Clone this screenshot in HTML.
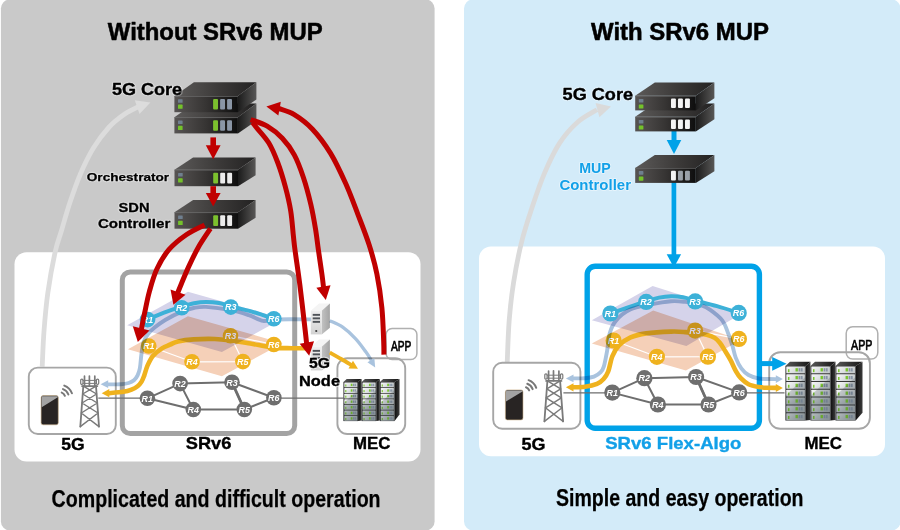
<!DOCTYPE html>
<html><head><meta charset="utf-8"><title>SRv6 MUP</title>
<style>html,body{margin:0;padding:0;background:#fff;}svg{display:block;}text{font-family:"Liberation Sans",sans-serif;}</style>
</head><body>
<svg width="900" height="530" viewBox="0 0 900 530">
<defs>
<linearGradient id="srvTop" x1="0" y1="0" x2="1" y2="0"><stop offset="0" stop-color="#5c5a59"/><stop offset="0.55" stop-color="#3b3938"/><stop offset="1" stop-color="#232222"/></linearGradient>
<linearGradient id="srvSide" x1="0" y1="0" x2="1" y2="0"><stop offset="0" stop-color="#1b1b1b"/><stop offset="1" stop-color="#585756"/></linearGradient>
<linearGradient id="srvFront" x1="0" y1="0" x2="1" y2="0"><stop offset="0" stop-color="#575453"/><stop offset="0.5" stop-color="#363433"/><stop offset="1" stop-color="#0e0e0e"/></linearGradient>
<linearGradient id="rkTop" x1="0" y1="0" x2="1" y2="0"><stop offset="0" stop-color="#5a5a5a"/><stop offset="1" stop-color="#141414"/></linearGradient>
<linearGradient id="rkSide" x1="0" y1="0" x2="1" y2="0"><stop offset="0" stop-color="#0e0e0e"/><stop offset="1" stop-color="#3c3c3c"/></linearGradient>
<linearGradient id="unitA" x1="0" y1="0" x2="1" y2="0.4"><stop offset="0" stop-color="#f7f8f8"/><stop offset="0.5" stop-color="#e0e3e4"/><stop offset="1" stop-color="#c6cbcd"/></linearGradient>
<linearGradient id="unitB" x1="0" y1="0" x2="1" y2="0.4"><stop offset="0" stop-color="#dde1e2"/><stop offset="0.5" stop-color="#bcc3c5"/><stop offset="1" stop-color="#a3abae"/></linearGradient>
<linearGradient id="tsFront" x1="0" y1="0" x2="0" y2="1"><stop offset="0" stop-color="#efefef"/><stop offset="1" stop-color="#d2d2d2"/></linearGradient>
<linearGradient id="tsSide" x1="0" y1="0" x2="1" y2="0"><stop offset="0" stop-color="#c2c2c2"/><stop offset="1" stop-color="#a4a4a4"/></linearGradient>
</defs>
<rect x="0.9" y="-0.5" width="433.7" height="531" rx="9" fill="#c9c9c9"/>
<rect x="464" y="-0.5" width="436.5" height="531" rx="9" fill="#d3ebf9"/>
<rect x="14.5" y="252.2" width="406" height="209.4" rx="12" fill="#fff"/>
<rect x="479" y="246.4" width="406" height="209.9" rx="12" fill="#fff"/>
<text x="107.8" y="39.5" font-size="23" font-weight="bold" fill="#000" text-anchor="start" textLength="214.8" lengthAdjust="spacingAndGlyphs" stroke="#000" stroke-width="0.51" stroke-linejoin="round">Without SRv6 MUP</text>
<text x="591" y="39.5" font-size="23" font-weight="bold" fill="#000" text-anchor="start" textLength="178" lengthAdjust="spacingAndGlyphs" stroke="#000" stroke-width="0.51" stroke-linejoin="round">With SRv6 MUP</text>
<text x="51.6" y="507.2" font-size="23.6" font-weight="bold" fill="#000" text-anchor="start" textLength="329" lengthAdjust="spacingAndGlyphs" stroke="#000" stroke-width="0.25">Complicated and difficult operation</text>
<text x="556" y="506.4" font-size="23.6" font-weight="bold" fill="#000" text-anchor="start" textLength="247.5" lengthAdjust="spacingAndGlyphs" stroke="#000" stroke-width="0.25">Simple and easy operation</text>
<path d="M42.20,366.60 C42.50,360.68 43.07,343.35 44.00,331.10 C44.93,318.85 45.95,306.25 47.80,293.10 C49.65,279.95 52.78,262.72 55.10,252.20 C57.42,241.68 59.28,238.10 61.70,230.00 C64.12,221.90 66.52,212.85 69.60,203.60 C72.68,194.35 76.23,183.75 80.20,174.50 C84.17,165.25 88.57,156.02 93.40,148.10 C98.23,140.18 103.92,132.72 109.20,127.00 C114.48,121.28 120.22,117.20 125.10,113.80 C129.98,110.40 136.27,107.80 138.50,106.60" fill="none" stroke="#dcdcdc" stroke-width="4.8"/>
<polygon points="150.40,102.60 139.52,114.01 134.80,100.30" fill="#dcdcdc"/>
<rect x="28.8" y="367.6" width="87" height="66.4" rx="9" fill="#fff" stroke="#a6a6a6" stroke-width="1.9"/>
<rect x="41.1" y="395.6" width="17.2" height="29.2" rx="2" fill="#282423" stroke="#c9b08a" stroke-width="0.6"/>
<path d="M42.300000000000004,396.20000000000005 L57.099999999999994,396.20000000000005 Q57.9,396.40000000000003 57.8,397.20000000000005 L41.7,407.20000000000005 L41.7,397.20000000000005 Q41.7,396.20000000000005 42.300000000000004,396.20000000000005 Z" fill="#a3a3a3"/>
<g fill="none" stroke="#787878" stroke-width="2.0" stroke-linecap="round">
<path d="M61.71,392.62 A5.3,5.3 0 0 1 64.88,395.79"/>
<path d="M62.98,389.14 A9.0,9.0 0 0 1 68.36,394.52"/>
<path d="M64.28,385.57 A12.8,12.8 0 0 1 71.93,393.22"/>
</g>
<g transform="translate(80.2,375.2) scale(1.0)" fill="none" stroke="#7a7a7a" stroke-width="1.45" stroke-linecap="round" stroke-linejoin="round">
<path d="M3.10,10.9 L0.10,51.4 M15.80,10.9 L18.80,51.4" stroke-width="1.8"/>
<path d="M3.10,10.9 L16.39,18.8 M15.80,10.9 L2.51,18.8 M2.51,18.8 L17.05,27.8 M16.39,18.8 L1.85,27.8 M1.85,27.8 L17.79,37.8 M17.05,27.8 L1.11,37.8 M1.11,37.8 L18.80,51.4 M17.79,37.8 L0.10,51.4 " stroke-width="1.45"/>
<path d="M1.8,10.9 L17.2,10.9" stroke-width="1.7"/>
<path d="M4.3,1 L4.3,10.6 M9.2,0.8 L9.2,10.6 M14.6,1 L14.6,10.6" stroke-width="1.7"/>
<rect x="0.5" y="3.9" width="2.3" height="5.2" rx="1.1" stroke-width="1.2"/>
<rect x="16.2" y="3.9" width="2.3" height="5.2" rx="1.1" stroke-width="1.2"/>
<path d="M2.8,5.2 L16.2,5.2 M2.8,8.2 L16.2,8.2" stroke-width="1.0"/>
</g>
<text x="61.2" y="449.6" font-size="17" font-weight="bold" fill="#000" text-anchor="start" textLength="23.4" lengthAdjust="spacingAndGlyphs" stroke="#000" stroke-width="0.37" stroke-linejoin="round">5G</text>
<text x="352.9" y="449.4" font-size="17" font-weight="bold" fill="#000" text-anchor="start" textLength="37.4" lengthAdjust="spacingAndGlyphs" stroke="#000" stroke-width="0.37" stroke-linejoin="round">MEC</text>
<rect x="386.1" y="328.5" width="30.8" height="31.0" rx="6" fill="#fff" stroke="#b0b0b0" stroke-width="1.5"/>
<rect x="337.4" y="358.2" width="67.8" height="75.8" rx="10" fill="none" stroke="#a6a6a6" stroke-width="1.9"/>
<text x="390.9" y="350.5" font-size="14.6" font-weight="normal" fill="#000" text-anchor="start" textLength="20.4" lengthAdjust="spacingAndGlyphs" stroke="#000" stroke-width="0.7">APP</text>
<rect x="122.3" y="271.9" width="172.4" height="161.7" rx="8" fill="none" stroke="#a3a3a3" stroke-width="5"/>
<text x="185.8" y="449.4" font-size="17" font-weight="bold" fill="#000" text-anchor="start" textLength="45.6" lengthAdjust="spacingAndGlyphs" stroke="#000" stroke-width="0.37" stroke-linejoin="round">SRv6</text>
<path d="M98.3,398.2 L147.4,398.2 M273.9,398.2 L343.5,398.2" stroke="#6e6e6e" stroke-width="1.3" fill="none"/>
<path d="M147.4,398.3 L180.1,383.6 M147.4,398.3 L193.3,409.5 M180.1,383.6 L232,382.3 M180.1,383.6 L193.3,409.5 M232,382.3 L244.3,409.5 M232,382.3 L273.9,397.8 M193.3,409.5 L244.3,409.5 M244.3,409.5 L273.9,397.8" stroke="#6e6e6e" stroke-width="2" fill="none"/>
<path d="M232,382.3 L244.3,409.5" stroke="#6e6e6e" stroke-width="2.8" fill="none"/>
<circle cx="147.4" cy="398.3" r="7.8" fill="#6e6e6e"/>
<text x="147.3" y="401.50" font-size="8.9" font-weight="bold" font-style="italic" fill="#fff" text-anchor="middle" opacity="1.0">R1</text>
<circle cx="180.1" cy="383.6" r="7.8" fill="#6e6e6e"/>
<text x="180.0" y="386.80" font-size="8.9" font-weight="bold" font-style="italic" fill="#fff" text-anchor="middle" opacity="1.0">R2</text>
<circle cx="232" cy="382.3" r="7.8" fill="#6e6e6e"/>
<text x="231.9" y="385.50" font-size="8.9" font-weight="bold" font-style="italic" fill="#fff" text-anchor="middle" opacity="1.0">R3</text>
<circle cx="193.3" cy="409.5" r="7.8" fill="#6e6e6e"/>
<text x="193.20000000000002" y="412.70" font-size="8.9" font-weight="bold" font-style="italic" fill="#fff" text-anchor="middle" opacity="1.0">R4</text>
<circle cx="244.3" cy="409.5" r="7.8" fill="#6e6e6e"/>
<text x="244.20000000000002" y="412.70" font-size="8.9" font-weight="bold" font-style="italic" fill="#fff" text-anchor="middle" opacity="1.0">R5</text>
<circle cx="273.9" cy="397.8" r="7.8" fill="#6e6e6e"/>
<text x="273.79999999999995" y="401.00" font-size="8.9" font-weight="bold" font-style="italic" fill="#fff" text-anchor="middle" opacity="1.0">R6</text>
<polygon points="127.9,349.2 187.9,316.2 282.6,343.2 221.9,376.2" fill="#f5d0b8" opacity="1"/>
<path d="M148.8,346.0 L192,361.8 M192,361.8 L242.9,361.6 M242.9,361.6 L230.5,335.7 M230.5,335.7 L273.8,344.5" stroke="#fff" stroke-width="1.2" fill="none"/>
<path d="M108.00,393.20 C110.55,392.97 119.38,392.40 123.30,391.80 C127.22,391.20 129.12,390.53 131.50,389.60 C133.88,388.67 135.92,387.53 137.60,386.20 C139.28,384.87 140.50,383.37 141.60,381.60 C142.70,379.83 143.20,378.30 144.20,375.60 C145.20,372.90 146.12,368.72 147.60,365.40 C149.08,362.08 150.70,358.53 153.10,355.70 C155.50,352.87 159.18,350.23 162.00,348.40 C164.82,346.57 167.35,345.85 170.00,344.70 C172.65,343.55 173.95,342.38 177.90,341.50 C181.85,340.62 187.53,339.82 193.70,339.40 C199.87,338.98 208.73,338.82 214.90,339.00 C221.07,339.18 224.80,339.73 230.70,340.50 C236.60,341.27 243.13,342.42 250.30,343.60 C257.47,344.78 266.75,346.83 273.70,347.60 C280.65,348.37 285.62,348.10 292.00,348.20 C298.38,348.30 308.67,348.20 312.00,348.20" fill="none" stroke="#efb21e" stroke-width="4.6"/>
<polygon points="101.70,393.20 109.30,389.10 109.30,397.30" fill="#efb21e"/>
<circle cx="148.8" cy="346.0" r="7.8" fill="#efb21e"/>
<text x="148.70000000000002" y="349.20" font-size="8.9" font-weight="bold" font-style="italic" fill="#fff" text-anchor="middle" opacity="1.0">R1</text>
<circle cx="230.5" cy="335.7" r="7.8" fill="#efb21e"/>
<text x="230.4" y="338.90" font-size="8.9" font-weight="bold" font-style="italic" fill="#fff" text-anchor="middle" opacity="1.0">R3</text>
<circle cx="192" cy="361.8" r="7.8" fill="#efb21e"/>
<text x="191.9" y="365.00" font-size="8.9" font-weight="bold" font-style="italic" fill="#fff" text-anchor="middle" opacity="1.0">R4</text>
<circle cx="242.9" cy="361.6" r="7.8" fill="#efb21e"/>
<text x="242.8" y="364.80" font-size="8.9" font-weight="bold" font-style="italic" fill="#fff" text-anchor="middle" opacity="1.0">R5</text>
<circle cx="273.8" cy="344.5" r="7.8" fill="#efb21e"/>
<text x="273.7" y="347.70" font-size="8.9" font-weight="bold" font-style="italic" fill="#fff" text-anchor="middle" opacity="1.0">R6</text>
<polygon points="127.2,325.3 187.9,291.8 282.6,318.5 221.9,352" fill="#d5d3ea" style="mix-blend-mode:multiply"/>
<path d="M147.60,319.60 C150.33,318.43 158.32,314.77 164.00,312.60 C169.68,310.43 176.70,308.17 181.70,306.60 C186.70,305.03 189.93,303.98 194.00,303.20 C198.07,302.42 201.93,301.93 206.10,301.90 C210.27,301.87 214.88,302.28 219.00,303.00 C223.12,303.72 225.30,304.77 230.80,306.20 C236.30,307.63 244.83,309.50 252.00,311.60 C259.17,313.70 270.17,317.60 273.80,318.80" fill="none" stroke="#3db1d8" stroke-width="4.0"/>
<path d="M313.00,319.40 C309.17,319.37 296.50,319.17 290.00,319.20 C283.50,319.23 278.50,319.33 274.00,319.60 C269.50,319.87 267.20,321.53 263.00,320.80 C258.80,320.07 254.13,316.97 248.80,315.20 C243.47,313.43 238.12,311.58 231.00,310.20 C223.88,308.82 212.32,307.27 206.10,306.90 C199.88,306.53 197.77,307.22 193.70,308.00 C189.63,308.78 186.45,309.60 181.70,311.60 C176.95,313.60 169.72,317.33 165.20,320.00 C160.68,322.67 157.47,325.27 154.60,327.60 C151.73,329.93 149.87,331.50 148.00,334.00 C146.13,336.50 144.50,339.18 143.40,342.60 C142.30,346.02 141.98,350.27 141.40,354.50 C140.82,358.73 140.53,364.52 139.90,368.00 C139.27,371.48 138.58,373.37 137.60,375.40 C136.62,377.43 135.50,378.93 134.00,380.20 C132.50,381.47 130.77,382.33 128.60,383.00 C126.43,383.67 124.60,383.97 121.00,384.20 C117.40,384.43 109.33,384.37 107.00,384.40" fill="none" stroke="#a9c3de" stroke-width="3.9" style="mix-blend-mode:multiply"/>
<polygon points="100.60,384.20 108.20,380.30 108.20,388.10" fill="#a9c3de"/>
<circle cx="147.6" cy="319.6" r="7.8" fill="#3db1d8"/>
<text x="147.5" y="322.80" font-size="8.9" font-weight="bold" font-style="italic" fill="#fff" text-anchor="middle" opacity="1.0">R1</text>
<circle cx="181.7" cy="307.7" r="7.8" fill="#3db1d8"/>
<text x="181.6" y="310.90" font-size="8.9" font-weight="bold" font-style="italic" fill="#fff" text-anchor="middle" opacity="1.0">R2</text>
<circle cx="230.8" cy="307.1" r="7.8" fill="#3db1d8"/>
<text x="230.70000000000002" y="310.30" font-size="8.9" font-weight="bold" font-style="italic" fill="#fff" text-anchor="middle" opacity="1.0">R3</text>
<circle cx="273.8" cy="318.8" r="7.8" fill="#3db1d8"/>
<text x="273.7" y="322.00" font-size="8.9" font-weight="bold" font-style="italic" fill="#fff" text-anchor="middle" opacity="1.0">R6</text>
<polygon points="310.8,310.7 319.0,303.4 329.9,303.4 321.7,310.7" fill="#f4f4f4"/>
<polygon points="321.7,310.7 329.9,303.4 329.9,327.7 321.7,334.4" fill="url(#tsSide)"/>
<rect x="310.8" y="310.7" width="10.9" height="23.7" fill="url(#tsFront)"/>
<rect x="312.7" y="313.90" width="7.300000000000001" height="1.9" fill="#4f5358"/>
<rect x="312.7" y="317.40" width="7.300000000000001" height="1.9" fill="#4f5358"/>
<rect x="312.7" y="320.90" width="7.300000000000001" height="1.9" fill="#4f5358"/>
<circle cx="316.25" cy="331.0" r="1.1" fill="#3c3c3c"/>
<polygon points="310.8,346.7 319.0,339.4 329.9,339.4 321.7,346.7" fill="#f4f4f4"/>
<polygon points="321.7,346.7 329.9,339.4 329.9,363.7 321.7,370.4" fill="url(#tsSide)"/>
<rect x="310.8" y="346.7" width="10.9" height="23.7" fill="url(#tsFront)"/>
<rect x="312.7" y="349.90" width="7.300000000000001" height="1.9" fill="#4f5358"/>
<rect x="312.7" y="353.40" width="7.300000000000001" height="1.9" fill="#4f5358"/>
<rect x="312.7" y="356.90" width="7.300000000000001" height="1.9" fill="#4f5358"/>
<circle cx="316.25" cy="367.0" r="1.1" fill="#3c3c3c"/>
<path d="M329.80,320.70 C331.95,321.78 338.38,324.18 342.70,327.20 C347.02,330.22 351.85,334.70 355.70,338.80 C359.55,342.90 363.18,348.20 365.80,351.80 C368.42,355.40 370.47,358.97 371.40,360.40" fill="none" stroke="#a9c3de" stroke-width="3.3" style="mix-blend-mode:multiply"/>
<polygon points="375.20,367.60 367.44,362.15 374.36,358.15" fill="#a9c3de"/>
<path d="M329.80,352.50 C331.70,353.58 337.53,356.85 341.20,359.00 C344.87,361.15 350.03,364.33 351.80,365.40" fill="none" stroke="#efb21e" stroke-width="3.8"/>
<polygon points="358.00,368.80 348.48,368.50 352.98,360.70" fill="#efb21e"/>
<text x="309" y="367.6" font-size="15.5" font-weight="bold" fill="none" stroke="#fff" stroke-opacity="0.6" stroke-width="2.6" stroke-linejoin="round" text-anchor="start" textLength="21" lengthAdjust="spacingAndGlyphs">5G</text>
<text x="309" y="367.6" font-size="15.5" font-weight="bold" fill="#000" text-anchor="start" textLength="21" lengthAdjust="spacingAndGlyphs" stroke="#000" stroke-width="0.34" stroke-linejoin="round">5G</text>
<text x="299" y="385.9" font-size="15.5" font-weight="bold" fill="none" stroke="#fff" stroke-opacity="0.6" stroke-width="2.6" stroke-linejoin="round" text-anchor="start" textLength="41" lengthAdjust="spacingAndGlyphs">Node</text>
<text x="299" y="385.9" font-size="15.5" font-weight="bold" fill="#000" text-anchor="start" textLength="41" lengthAdjust="spacingAndGlyphs" stroke="#000" stroke-width="0.34" stroke-linejoin="round">Node</text>
<polygon points="343.4,381.9982051282051 346.71435897435896,378.9 361.6289743589743,378.9 358.0984615384615,381.9982051282051" fill="url(#rkTop)"/>
<polygon points="358.0984615384615,381.9982051282051 361.6289743589743,378.9 361.6289743589743,420.59999999999997 358.0984615384615,421.09999999999997" fill="url(#rkSide)"/>
<rect x="343.4" y="381.9982051282051" width="14.698461538461537" height="39.10179487179487" fill="#383838"/>
<rect x="344.30" y="382.50" width="13.10" height="4.84" rx="0.5" fill="url(#unitA)"/>
<rect x="345.27" y="384.45" width="1.08" height="2.12" fill="#7ac62c"/>
<rect x="350.75" y="383.73" width="1.73" height="2.35" fill="#7ac62c"/>
<rect x="352.98" y="383.73" width="1.30" height="2.35" fill="#8895a5"/>
<rect x="354.64" y="383.73" width="1.30" height="2.35" fill="#8895a5"/>
<rect x="344.30" y="388.08" width="13.10" height="4.84" rx="0.5" fill="url(#unitA)"/>
<rect x="345.27" y="390.04" width="1.08" height="2.12" fill="#7ac62c"/>
<rect x="350.75" y="389.31" width="1.73" height="2.35" fill="#7ac62c"/>
<rect x="352.98" y="389.31" width="1.30" height="2.35" fill="#8895a5"/>
<rect x="354.64" y="389.31" width="1.30" height="2.35" fill="#8895a5"/>
<rect x="344.30" y="393.67" width="13.10" height="4.84" rx="0.5" fill="url(#unitA)"/>
<rect x="345.27" y="395.63" width="1.08" height="2.12" fill="#7ac62c"/>
<rect x="350.75" y="394.90" width="1.73" height="2.35" fill="#7ac62c"/>
<rect x="352.98" y="394.90" width="1.30" height="2.35" fill="#8895a5"/>
<rect x="354.64" y="394.90" width="1.30" height="2.35" fill="#8895a5"/>
<rect x="344.30" y="399.26" width="13.10" height="4.84" rx="0.5" fill="url(#unitA)"/>
<rect x="345.27" y="401.21" width="1.08" height="2.12" fill="#7ac62c"/>
<rect x="350.75" y="400.49" width="1.73" height="2.35" fill="#7ac62c"/>
<rect x="352.98" y="400.49" width="1.30" height="2.35" fill="#8895a5"/>
<rect x="354.64" y="400.49" width="1.30" height="2.35" fill="#8895a5"/>
<rect x="344.30" y="404.84" width="13.10" height="4.84" rx="0.5" fill="url(#unitB)"/>
<rect x="345.27" y="406.80" width="1.08" height="2.12" fill="#7ac62c"/>
<rect x="350.75" y="406.07" width="1.73" height="2.35" fill="#7ac62c"/>
<rect x="352.98" y="406.07" width="1.30" height="2.35" fill="#8895a5"/>
<rect x="354.64" y="406.07" width="1.30" height="2.35" fill="#8895a5"/>
<rect x="344.30" y="410.43" width="13.10" height="4.84" rx="0.5" fill="url(#unitB)"/>
<rect x="345.27" y="412.38" width="1.08" height="2.12" fill="#7ac62c"/>
<rect x="350.75" y="411.66" width="1.73" height="2.35" fill="#7ac62c"/>
<rect x="352.98" y="411.66" width="1.30" height="2.35" fill="#8895a5"/>
<rect x="354.64" y="411.66" width="1.30" height="2.35" fill="#8895a5"/>
<rect x="344.30" y="416.01" width="13.10" height="4.84" rx="0.5" fill="url(#unitB)"/>
<rect x="345.27" y="417.97" width="1.08" height="2.12" fill="#7ac62c"/>
<rect x="350.75" y="417.24" width="1.73" height="2.35" fill="#7ac62c"/>
<rect x="352.98" y="417.24" width="1.30" height="2.35" fill="#8895a5"/>
<rect x="354.64" y="417.24" width="1.30" height="2.35" fill="#8895a5"/>
<polygon points="343.4,403.5041923076923 358.0984615384615,389.81856410256404 358.0984615384615,421.09999999999997 343.4,421.09999999999997" fill="#22303a" opacity="0.2"/>
<polygon points="361.62897435897435,381.9982051282051 364.9433333333333,378.9 379.85794871794866,378.9 376.32743589743586,381.9982051282051" fill="url(#rkTop)"/>
<polygon points="376.32743589743586,381.9982051282051 379.85794871794866,378.9 379.85794871794866,420.59999999999997 376.32743589743586,421.09999999999997" fill="url(#rkSide)"/>
<rect x="361.62897435897435" y="381.9982051282051" width="14.698461538461537" height="39.10179487179487" fill="#383838"/>
<rect x="362.53" y="382.50" width="13.10" height="4.84" rx="0.5" fill="url(#unitA)"/>
<rect x="363.50" y="384.45" width="1.08" height="2.12" fill="#7ac62c"/>
<rect x="368.98" y="383.73" width="1.73" height="2.35" fill="#7ac62c"/>
<rect x="371.21" y="383.73" width="1.30" height="2.35" fill="#8895a5"/>
<rect x="372.87" y="383.73" width="1.30" height="2.35" fill="#8895a5"/>
<rect x="362.53" y="388.08" width="13.10" height="4.84" rx="0.5" fill="url(#unitA)"/>
<rect x="363.50" y="390.04" width="1.08" height="2.12" fill="#7ac62c"/>
<rect x="368.98" y="389.31" width="1.73" height="2.35" fill="#7ac62c"/>
<rect x="371.21" y="389.31" width="1.30" height="2.35" fill="#8895a5"/>
<rect x="372.87" y="389.31" width="1.30" height="2.35" fill="#8895a5"/>
<rect x="362.53" y="393.67" width="13.10" height="4.84" rx="0.5" fill="url(#unitA)"/>
<rect x="363.50" y="395.63" width="1.08" height="2.12" fill="#7ac62c"/>
<rect x="368.98" y="394.90" width="1.73" height="2.35" fill="#7ac62c"/>
<rect x="371.21" y="394.90" width="1.30" height="2.35" fill="#8895a5"/>
<rect x="372.87" y="394.90" width="1.30" height="2.35" fill="#8895a5"/>
<rect x="362.53" y="399.26" width="13.10" height="4.84" rx="0.5" fill="url(#unitA)"/>
<rect x="363.50" y="401.21" width="1.08" height="2.12" fill="#7ac62c"/>
<rect x="368.98" y="400.49" width="1.73" height="2.35" fill="#7ac62c"/>
<rect x="371.21" y="400.49" width="1.30" height="2.35" fill="#8895a5"/>
<rect x="372.87" y="400.49" width="1.30" height="2.35" fill="#8895a5"/>
<rect x="362.53" y="404.84" width="13.10" height="4.84" rx="0.5" fill="url(#unitB)"/>
<rect x="363.50" y="406.80" width="1.08" height="2.12" fill="#7ac62c"/>
<rect x="368.98" y="406.07" width="1.73" height="2.35" fill="#7ac62c"/>
<rect x="371.21" y="406.07" width="1.30" height="2.35" fill="#8895a5"/>
<rect x="372.87" y="406.07" width="1.30" height="2.35" fill="#8895a5"/>
<rect x="362.53" y="410.43" width="13.10" height="4.84" rx="0.5" fill="url(#unitB)"/>
<rect x="363.50" y="412.38" width="1.08" height="2.12" fill="#7ac62c"/>
<rect x="368.98" y="411.66" width="1.73" height="2.35" fill="#7ac62c"/>
<rect x="371.21" y="411.66" width="1.30" height="2.35" fill="#8895a5"/>
<rect x="372.87" y="411.66" width="1.30" height="2.35" fill="#8895a5"/>
<rect x="362.53" y="416.01" width="13.10" height="4.84" rx="0.5" fill="url(#unitB)"/>
<rect x="363.50" y="417.97" width="1.08" height="2.12" fill="#7ac62c"/>
<rect x="368.98" y="417.24" width="1.73" height="2.35" fill="#7ac62c"/>
<rect x="371.21" y="417.24" width="1.30" height="2.35" fill="#8895a5"/>
<rect x="372.87" y="417.24" width="1.30" height="2.35" fill="#8895a5"/>
<polygon points="361.62897435897435,403.5041923076923 376.32743589743586,389.81856410256404 376.32743589743586,421.09999999999997 361.62897435897435,421.09999999999997" fill="#22303a" opacity="0.2"/>
<polygon points="379.8579487179487,381.9982051282051 383.1723076923077,378.9 399.5279487179487,378.9 394.55641025641023,381.9982051282051" fill="url(#rkTop)"/>
<polygon points="394.55641025641023,381.9982051282051 399.5279487179487,378.9 399.5279487179487,414.40179487179483 394.55641025641023,421.09999999999997" fill="url(#rkSide)"/>
<rect x="379.8579487179487" y="381.9982051282051" width="14.698461538461537" height="39.10179487179487" fill="#383838"/>
<rect x="380.76" y="382.50" width="13.10" height="4.84" rx="0.5" fill="url(#unitA)"/>
<rect x="381.73" y="384.45" width="1.08" height="2.12" fill="#7ac62c"/>
<rect x="387.21" y="383.73" width="1.73" height="2.35" fill="#7ac62c"/>
<rect x="389.44" y="383.73" width="1.30" height="2.35" fill="#8895a5"/>
<rect x="391.10" y="383.73" width="1.30" height="2.35" fill="#8895a5"/>
<rect x="380.76" y="388.08" width="13.10" height="4.84" rx="0.5" fill="url(#unitA)"/>
<rect x="381.73" y="390.04" width="1.08" height="2.12" fill="#7ac62c"/>
<rect x="387.21" y="389.31" width="1.73" height="2.35" fill="#7ac62c"/>
<rect x="389.44" y="389.31" width="1.30" height="2.35" fill="#8895a5"/>
<rect x="391.10" y="389.31" width="1.30" height="2.35" fill="#8895a5"/>
<rect x="380.76" y="393.67" width="13.10" height="4.84" rx="0.5" fill="url(#unitA)"/>
<rect x="381.73" y="395.63" width="1.08" height="2.12" fill="#7ac62c"/>
<rect x="387.21" y="394.90" width="1.73" height="2.35" fill="#7ac62c"/>
<rect x="389.44" y="394.90" width="1.30" height="2.35" fill="#8895a5"/>
<rect x="391.10" y="394.90" width="1.30" height="2.35" fill="#8895a5"/>
<rect x="380.76" y="399.26" width="13.10" height="4.84" rx="0.5" fill="url(#unitA)"/>
<rect x="381.73" y="401.21" width="1.08" height="2.12" fill="#7ac62c"/>
<rect x="387.21" y="400.49" width="1.73" height="2.35" fill="#7ac62c"/>
<rect x="389.44" y="400.49" width="1.30" height="2.35" fill="#8895a5"/>
<rect x="391.10" y="400.49" width="1.30" height="2.35" fill="#8895a5"/>
<rect x="380.76" y="404.84" width="13.10" height="4.84" rx="0.5" fill="url(#unitB)"/>
<rect x="381.73" y="406.80" width="1.08" height="2.12" fill="#7ac62c"/>
<rect x="387.21" y="406.07" width="1.73" height="2.35" fill="#7ac62c"/>
<rect x="389.44" y="406.07" width="1.30" height="2.35" fill="#8895a5"/>
<rect x="391.10" y="406.07" width="1.30" height="2.35" fill="#8895a5"/>
<rect x="380.76" y="410.43" width="13.10" height="4.84" rx="0.5" fill="url(#unitB)"/>
<rect x="381.73" y="412.38" width="1.08" height="2.12" fill="#7ac62c"/>
<rect x="387.21" y="411.66" width="1.73" height="2.35" fill="#7ac62c"/>
<rect x="389.44" y="411.66" width="1.30" height="2.35" fill="#8895a5"/>
<rect x="391.10" y="411.66" width="1.30" height="2.35" fill="#8895a5"/>
<rect x="380.76" y="416.01" width="13.10" height="4.84" rx="0.5" fill="url(#unitB)"/>
<rect x="381.73" y="417.97" width="1.08" height="2.12" fill="#7ac62c"/>
<rect x="387.21" y="417.24" width="1.73" height="2.35" fill="#7ac62c"/>
<rect x="389.44" y="417.24" width="1.30" height="2.35" fill="#8895a5"/>
<rect x="391.10" y="417.24" width="1.30" height="2.35" fill="#8895a5"/>
<polygon points="379.8579487179487,403.5041923076923 394.55641025641023,389.81856410256404 394.55641025641023,421.09999999999997 379.8579487179487,421.09999999999997" fill="#22303a" opacity="0.2"/>
<polygon points="174.4,117.2 193.9,103.4 256.4,103.4 237.9,117.2" fill="url(#srvTop)"/>
<polygon points="237.9,117.2 256.4,103.4 256.4,120.80000000000001 237.9,133.4" fill="url(#srvSide)"/>
<rect x="174.4" y="117.2" width="63.5" height="16.2" fill="url(#srvFront)"/>
<rect x="174.4" y="117.2" width="63.5" height="0.9" fill="#6a6a6a" opacity="0.8"/>
<rect x="178.0" y="120.4" width="4.6" height="3.6" rx="0.6" fill="#6f7f8f"/>
<rect x="178.0" y="125.8" width="4.6" height="4.2" rx="0.6" fill="#74c22a"/>
<rect x="213.1" y="120.28" width="4.9" height="10.53" rx="1" fill="#7cc12e"/>
<rect x="220.1" y="120.28" width="4.9" height="10.53" rx="1" fill="#8a96a6"/>
<rect x="227.1" y="120.28" width="4.9" height="10.53" rx="1" fill="#8a96a6"/>
<polygon points="174.4,96.0 193.9,82.2 256.4,82.2 237.9,96.0" fill="url(#srvTop)"/>
<polygon points="237.9,96.0 256.4,82.2 256.4,99.60000000000001 237.9,112.2" fill="url(#srvSide)"/>
<rect x="174.4" y="96.0" width="63.5" height="16.2" fill="url(#srvFront)"/>
<rect x="174.4" y="96.0" width="63.5" height="0.9" fill="#6a6a6a" opacity="0.8"/>
<rect x="178.0" y="99.2" width="4.6" height="3.6" rx="0.6" fill="#6f7f8f"/>
<rect x="178.0" y="104.6" width="4.6" height="4.2" rx="0.6" fill="#74c22a"/>
<rect x="213.1" y="99.08" width="4.9" height="10.53" rx="1" fill="#7cc12e"/>
<rect x="220.1" y="99.08" width="4.9" height="10.53" rx="1" fill="#8a96a6"/>
<rect x="227.1" y="99.08" width="4.9" height="10.53" rx="1" fill="#8a96a6"/>
<polygon points="174.5,169.7 193.1,157.5 255.6,157.5 238.0,169.7" fill="url(#srvTop)"/>
<polygon points="238.0,169.7 255.6,157.5 255.6,175.2 238.0,186.2" fill="url(#srvSide)"/>
<rect x="174.5" y="169.7" width="63.5" height="16.5" fill="url(#srvFront)"/>
<rect x="174.5" y="169.7" width="63.5" height="0.9" fill="#6a6a6a" opacity="0.8"/>
<rect x="178.1" y="172.89999999999998" width="4.6" height="3.6" rx="0.6" fill="#6f7f8f"/>
<rect x="178.1" y="178.29999999999998" width="4.6" height="4.2" rx="0.6" fill="#74c22a"/>
<rect x="213.2" y="172.83" width="4.9" height="10.72" rx="1" fill="#7cc12e"/>
<rect x="220.2" y="172.83" width="4.9" height="10.72" rx="1" fill="#ececec"/>
<rect x="227.2" y="172.83" width="4.9" height="10.72" rx="1" fill="#ececec"/>
<polygon points="174.5,212.2 193.1,200.0 255.6,200.0 238.0,212.2" fill="url(#srvTop)"/>
<polygon points="238.0,212.2 255.6,200.0 255.6,217.7 238.0,228.7" fill="url(#srvSide)"/>
<rect x="174.5" y="212.2" width="63.5" height="16.5" fill="url(#srvFront)"/>
<rect x="174.5" y="212.2" width="63.5" height="0.9" fill="#6a6a6a" opacity="0.8"/>
<rect x="178.1" y="215.39999999999998" width="4.6" height="3.6" rx="0.6" fill="#6f7f8f"/>
<rect x="178.1" y="220.79999999999998" width="4.6" height="4.2" rx="0.6" fill="#74c22a"/>
<rect x="213.2" y="215.33" width="4.9" height="10.72" rx="1" fill="#7cc12e"/>
<rect x="220.2" y="215.33" width="4.9" height="10.72" rx="1" fill="#ececec"/>
<rect x="227.2" y="215.33" width="4.9" height="10.72" rx="1" fill="#ececec"/>
<text x="112" y="95" font-size="17" font-weight="bold" fill="none" stroke="#fff" stroke-opacity="0.3" stroke-width="2.6" stroke-linejoin="round" text-anchor="start" textLength="70" lengthAdjust="spacingAndGlyphs">5G Core</text>
<text x="112" y="95" font-size="17" font-weight="bold" fill="#000" text-anchor="start" textLength="70" lengthAdjust="spacingAndGlyphs" stroke="#000" stroke-width="0.37" stroke-linejoin="round">5G Core</text>
<text x="86.8" y="181.0" font-size="11.5" font-weight="bold" fill="none" stroke="#fff" stroke-opacity="0.3" stroke-width="2.6" stroke-linejoin="round" text-anchor="start" textLength="82.3" lengthAdjust="spacingAndGlyphs">Orchestrator</text>
<text x="86.8" y="181.0" font-size="11.5" font-weight="bold" fill="#000" text-anchor="start" textLength="82.3" lengthAdjust="spacingAndGlyphs" stroke="#000" stroke-width="0.25" stroke-linejoin="round">Orchestrator</text>
<text x="118.5" y="211.7" font-size="13.5" font-weight="bold" fill="none" stroke="#fff" stroke-opacity="0.3" stroke-width="2.6" stroke-linejoin="round" text-anchor="start" textLength="31" lengthAdjust="spacingAndGlyphs">SDN</text>
<text x="118.5" y="211.7" font-size="13.5" font-weight="bold" fill="#000" text-anchor="start" textLength="31" lengthAdjust="spacingAndGlyphs" stroke="#000" stroke-width="0.30" stroke-linejoin="round">SDN</text>
<text x="97.9" y="228.3" font-size="13.5" font-weight="bold" fill="none" stroke="#fff" stroke-opacity="0.3" stroke-width="2.6" stroke-linejoin="round" text-anchor="start" textLength="72.4" lengthAdjust="spacingAndGlyphs">Controller</text>
<text x="97.9" y="228.3" font-size="13.5" font-weight="bold" fill="#000" text-anchor="start" textLength="72.4" lengthAdjust="spacingAndGlyphs" stroke="#000" stroke-width="0.30" stroke-linejoin="round">Controller</text>
<path d="M213.2,137.4 L213.2,146" fill="none" stroke="#c00000" stroke-width="5.6"/>
<polygon points="213.20,159.30 205.80,145.30 220.60,145.30" fill="#c00000"/>
<path d="M213.2,186.2 L213.2,194" fill="none" stroke="#c00000" stroke-width="5.6"/>
<polygon points="213.20,206.40 205.80,193.00 220.60,193.00" fill="#c00000"/>
<path d="M204.60,225.00 C201.55,226.62 192.22,230.63 186.30,234.70 C180.38,238.77 174.00,243.68 169.10,249.40 C164.20,255.12 160.17,262.05 156.90,269.00 C153.63,275.95 151.55,283.75 149.50,291.10 C147.45,298.45 145.95,306.78 144.60,313.10 C143.25,319.42 141.93,326.35 141.40,329.00" fill="none" stroke="#c00000" stroke-width="5.0"/>
<polygon points="137.80,342.00 132.84,326.34 149.53,330.50" fill="#c00000"/>
<path d="M210.40,228.60 C208.42,231.67 202.12,240.67 198.50,247.00 C194.88,253.33 191.55,260.48 188.70,266.60 C185.85,272.72 183.27,279.23 181.40,283.70 C179.53,288.17 178.15,291.78 177.50,293.40" fill="none" stroke="#c00000" stroke-width="5.0"/>
<polygon points="173.40,304.80 170.50,289.38 185.53,294.85" fill="#c00000"/>
<path d="M252.50,122.50 C253.18,123.37 253.90,124.32 256.60,127.70 C259.30,131.08 265.18,137.00 268.70,142.80 C272.22,148.60 274.93,155.20 277.70,162.50 C280.47,169.80 283.13,178.55 285.30,186.60 C287.47,194.65 289.35,202.57 290.70,210.80 C292.05,219.03 292.68,229.47 293.40,236.00 C294.12,242.53 293.92,241.78 295.00,250.00 C296.08,258.22 298.20,271.87 299.90,285.30 C301.60,298.73 304.08,320.90 305.20,330.60 C306.32,340.30 306.37,341.35 306.60,343.50" fill="none" stroke="#c00000" stroke-width="5.0"/>
<polygon points="309.20,355.80 299.67,343.77 314.04,341.24" fill="#c00000"/>
<path d="M250.60,119.60 C253.37,120.70 261.92,123.08 267.20,126.20 C272.48,129.32 277.78,133.52 282.30,138.30 C286.82,143.08 290.78,148.37 294.30,154.90 C297.82,161.43 300.63,169.20 303.40,177.50 C306.17,185.80 308.88,196.13 310.90,204.70 C312.92,213.27 314.25,221.35 315.50,228.90 C316.75,236.45 317.33,242.48 318.40,250.00 C319.47,257.52 321.03,267.67 321.90,274.00 C322.77,280.33 323.32,285.67 323.60,288.00" fill="none" stroke="#c00000" stroke-width="5.0"/>
<polygon points="325.80,300.00 316.35,287.86 330.53,285.36" fill="#c00000"/>
<path d="M383.90,354.60 C383.87,352.48 384.03,349.68 383.70,341.90 C383.37,334.12 383.03,319.22 381.90,307.90 C380.77,296.58 379.02,284.48 376.90,274.00 C374.78,263.52 372.40,255.03 369.20,245.00 C366.00,234.97 361.62,224.03 357.70,213.80 C353.78,203.57 350.22,193.67 345.70,183.60 C341.18,173.53 336.13,162.47 330.60,153.40 C325.07,144.33 318.55,135.67 312.50,129.20 C306.45,122.73 299.97,118.07 294.30,114.60 C288.63,111.13 281.13,109.43 278.50,108.40" fill="none" stroke="#c00000" stroke-width="5.0"/>
<polygon points="266.40,106.40 280.81,101.83 278.38,115.62" fill="#c00000"/>
<path d="M507.20,362.70 C507.53,355.63 508.13,333.70 509.20,320.30 C510.27,306.90 511.53,295.35 513.60,282.30 C515.67,269.25 518.48,254.58 521.60,242.00 C524.72,229.42 528.52,218.20 532.30,206.80 C536.08,195.40 539.78,184.17 544.30,173.60 C548.82,163.03 553.87,151.95 559.40,143.40 C564.93,134.85 571.23,127.90 577.50,122.30 C583.77,116.70 593.75,111.88 597.00,109.80" fill="none" stroke="#dadada" stroke-width="4.8"/>
<polygon points="611.00,106.50 599.42,117.37 595.54,102.88" fill="#dadada"/>
<rect x="493.2" y="362.7" width="87.2" height="66" rx="9" fill="#fff" stroke="#a6a6a6" stroke-width="1.9"/>
<rect x="505.4" y="389.9" width="17.6" height="30" rx="2" fill="#282423" stroke="#c9b08a" stroke-width="0.6"/>
<path d="M506.59999999999997,390.5 L521.8,390.5 Q522.6,390.7 522.5,391.5 L506.0,401.5 L506.0,391.5 Q506.0,390.5 506.59999999999997,390.5 Z" fill="#a3a3a3"/>
<g fill="none" stroke="#787878" stroke-width="2.0" stroke-linecap="round">
<path d="M526.01,387.22 A5.3,5.3 0 0 1 529.18,390.39"/>
<path d="M527.28,383.74 A9.0,9.0 0 0 1 532.66,389.12"/>
<path d="M528.58,380.17 A12.8,12.8 0 0 1 536.23,387.82"/>
</g>
<g transform="translate(544.3,370.0) scale(1.0)" fill="none" stroke="#7a7a7a" stroke-width="1.45" stroke-linecap="round" stroke-linejoin="round">
<path d="M3.10,10.9 L0.10,51.4 M15.80,10.9 L18.80,51.4" stroke-width="1.8"/>
<path d="M3.10,10.9 L16.39,18.8 M15.80,10.9 L2.51,18.8 M2.51,18.8 L17.05,27.8 M16.39,18.8 L1.85,27.8 M1.85,27.8 L17.79,37.8 M17.05,27.8 L1.11,37.8 M1.11,37.8 L18.80,51.4 M17.79,37.8 L0.10,51.4 " stroke-width="1.45"/>
<path d="M1.8,10.9 L17.2,10.9" stroke-width="1.7"/>
<path d="M4.3,1 L4.3,10.6 M9.2,0.8 L9.2,10.6 M14.6,1 L14.6,10.6" stroke-width="1.7"/>
<rect x="0.5" y="3.9" width="2.3" height="5.2" rx="1.1" stroke-width="1.2"/>
<rect x="16.2" y="3.9" width="2.3" height="5.2" rx="1.1" stroke-width="1.2"/>
<path d="M2.8,5.2 L16.2,5.2 M2.8,8.2 L16.2,8.2" stroke-width="1.0"/>
</g>
<text x="521.6" y="449.6" font-size="17" font-weight="bold" fill="#000" text-anchor="start" textLength="24" lengthAdjust="spacingAndGlyphs" stroke="#000" stroke-width="0.37" stroke-linejoin="round">5G</text>
<text x="804.6" y="449.4" font-size="17" font-weight="bold" fill="#000" text-anchor="start" textLength="37.4" lengthAdjust="spacingAndGlyphs" stroke="#000" stroke-width="0.37" stroke-linejoin="round">MEC</text>
<rect x="846.2" y="326.7" width="31.6" height="32.4" rx="6.5" fill="#fff" stroke="#b0b0b0" stroke-width="1.5"/>
<rect x="769.2" y="352.3" width="100.7" height="76.5" rx="11" fill="none" stroke="#a6a6a6" stroke-width="1.9"/>
<text x="851.0" y="349.8" font-size="14.9" font-weight="normal" fill="#000" text-anchor="start" textLength="21.4" lengthAdjust="spacingAndGlyphs" stroke="#000" stroke-width="0.7">APP</text>
<rect x="587.2" y="266.3" width="172.2" height="161.9" rx="8" fill="none" stroke="#00a2e8" stroke-width="5.4"/>
<text x="605.2" y="449.4" font-size="17" font-weight="bold" fill="#12a0e8" text-anchor="start" textLength="136.2" lengthAdjust="spacingAndGlyphs" stroke="#12a0e8" stroke-width="0.37" stroke-linejoin="round">SRv6 Flex-Algo</text>
<path d="M563.4,392.8 L612.5,392.8 M738.4,392.8 L784.5,392.8" stroke="#6e6e6e" stroke-width="1.3" fill="none"/>
<path d="M612.3,392.6 L644.4,378.2 M612.3,392.6 L657.9,404.5 M644.4,378.2 L696.1,377.0 M644.4,378.2 L657.9,404.5 M696.1,377.0 L708.5,404.5 M696.1,377.0 L739.2,392.4 M657.9,404.5 L708.5,404.5 M708.5,404.5 L739.2,392.4" stroke="#6e6e6e" stroke-width="2" fill="none"/>
<path d="M696.1,377.0 L708.5,404.5" stroke="#6e6e6e" stroke-width="2.8" fill="none"/>
<circle cx="612.3" cy="392.6" r="8.1" fill="#6e6e6e"/>
<text x="612.1999999999999" y="395.84" font-size="9.0" font-weight="bold" font-style="italic" fill="#fff" text-anchor="middle" opacity="1.0">R1</text>
<circle cx="644.4" cy="378.2" r="8.1" fill="#6e6e6e"/>
<text x="644.3" y="381.44" font-size="9.0" font-weight="bold" font-style="italic" fill="#fff" text-anchor="middle" opacity="1.0">R2</text>
<circle cx="696.1" cy="377.0" r="8.1" fill="#6e6e6e"/>
<text x="696.0" y="380.24" font-size="9.0" font-weight="bold" font-style="italic" fill="#fff" text-anchor="middle" opacity="1.0">R3</text>
<circle cx="657.9" cy="404.5" r="8.1" fill="#6e6e6e"/>
<text x="657.8" y="407.74" font-size="9.0" font-weight="bold" font-style="italic" fill="#fff" text-anchor="middle" opacity="1.0">R4</text>
<circle cx="708.5" cy="404.5" r="8.1" fill="#6e6e6e"/>
<text x="708.4" y="407.74" font-size="9.0" font-weight="bold" font-style="italic" fill="#fff" text-anchor="middle" opacity="1.0">R5</text>
<circle cx="739.2" cy="392.4" r="8.1" fill="#6e6e6e"/>
<text x="739.1" y="395.64" font-size="9.0" font-weight="bold" font-style="italic" fill="#fff" text-anchor="middle" opacity="1.0">R6</text>
<polygon points="591.8,343.6 653.2,310.4 741,339.9 685.9,370.6" fill="#f5d0b8" opacity="1"/>
<path d="M613.6,340.5 L656.9,356.8 M656.9,356.8 L707.9,356.7 M707.9,356.7 L695.1,330.6 M695.1,330.6 L738.9,338.9" stroke="#fff" stroke-width="1.2" fill="none"/>
<path d="M572.00,387.30 C574.17,387.22 580.83,387.37 585.00,386.80 C589.17,386.23 593.90,385.20 597.00,383.90 C600.10,382.60 601.73,381.07 603.60,379.00 C605.47,376.93 606.73,375.32 608.20,371.50 C609.67,367.68 610.60,360.45 612.40,356.10 C614.20,351.75 615.97,348.52 619.00,345.40 C622.03,342.28 626.07,339.40 630.60,337.40 C635.13,335.40 639.45,334.37 646.20,333.40 C652.95,332.43 664.58,331.82 671.10,331.60 C677.62,331.38 681.30,331.80 685.30,332.10 C689.30,332.40 691.53,332.95 695.10,333.40 C698.67,333.85 703.43,334.05 706.70,334.80 C709.97,335.55 712.48,336.53 714.70,337.90 C716.92,339.27 718.23,340.77 720.00,343.00 C721.77,345.23 723.52,348.40 725.30,351.30 C727.08,354.20 728.92,357.05 730.70,360.40 C732.48,363.75 734.32,368.43 736.00,371.40 C737.68,374.37 738.72,376.07 740.80,378.20 C742.88,380.33 745.53,382.73 748.50,384.20 C751.47,385.67 755.35,386.40 758.60,387.00 C761.85,387.60 764.93,387.65 768.00,387.80 C771.07,387.95 775.50,387.88 777.00,387.90" fill="none" stroke="#efb21e" stroke-width="4.6"/>
<polygon points="565.90,387.30 573.50,383.20 573.50,391.40" fill="#efb21e"/>
<polygon points="782.80,387.90 775.80,391.90 775.80,383.90" fill="#efb21e"/>
<circle cx="613.6" cy="340.5" r="8.1" fill="#efb21e"/>
<text x="613.5" y="343.74" font-size="9.0" font-weight="bold" font-style="italic" fill="#fff" text-anchor="middle" opacity="1.0">R1</text>
<circle cx="695.1" cy="330.6" r="8.1" fill="#efb21e"/>
<text x="695.0" y="333.84" font-size="9.0" font-weight="bold" font-style="italic" fill="#fff" text-anchor="middle" opacity="1.0">R3</text>
<circle cx="656.9" cy="356.8" r="8.1" fill="#efb21e"/>
<text x="656.8" y="360.04" font-size="9.0" font-weight="bold" font-style="italic" fill="#fff" text-anchor="middle" opacity="1.0">R4</text>
<circle cx="707.9" cy="356.7" r="8.1" fill="#efb21e"/>
<text x="707.8" y="359.94" font-size="9.0" font-weight="bold" font-style="italic" fill="#fff" text-anchor="middle" opacity="1.0">R5</text>
<circle cx="738.9" cy="338.9" r="8.1" fill="#efb21e"/>
<text x="738.8" y="342.14" font-size="9.0" font-weight="bold" font-style="italic" fill="#fff" text-anchor="middle" opacity="1.0">R6</text>
<polygon points="591.8,320.3 652.6,286.0 741,313.9 686.4,346.0" fill="#d5d3ea" style="mix-blend-mode:multiply"/>
<path d="M610.40,313.50 C613.33,312.48 622.03,309.42 628.00,307.40 C633.97,305.38 641.03,303.03 646.20,301.40 C651.37,299.77 654.85,298.47 659.00,297.60 C663.15,296.73 667.10,296.27 671.10,296.20 C675.10,296.13 678.98,296.47 683.00,297.20 C687.02,297.93 689.53,299.10 695.20,300.60 C700.87,302.10 709.75,304.15 717.00,306.20 C724.25,308.25 735.08,311.78 738.70,312.90" fill="none" stroke="#3db1d8" stroke-width="4.0"/>
<path d="M572.00,378.40 C574.17,378.37 581.33,378.50 585.00,378.20 C588.67,377.90 591.43,377.57 594.00,376.60 C596.57,375.63 598.77,374.07 600.40,372.40 C602.03,370.73 602.68,370.20 603.80,366.60 C604.92,363.00 606.10,356.40 607.10,350.80 C608.10,345.20 608.32,338.03 609.80,333.00 C611.28,327.97 612.60,324.50 616.00,320.60 C619.40,316.70 624.57,312.27 630.20,309.60 C635.83,306.93 642.98,306.00 649.80,304.60 C656.62,303.20 665.18,301.65 671.10,301.20 C677.02,300.75 680.55,301.33 685.30,301.90 C690.05,302.47 695.45,303.27 699.60,304.60 C703.75,305.93 706.40,307.23 710.20,309.90 C714.00,312.57 719.37,316.58 722.40,320.60 C725.43,324.62 726.70,329.72 728.40,334.00 C730.10,338.28 731.38,342.37 732.60,346.30 C733.82,350.23 734.25,353.92 735.70,357.60 C737.15,361.28 739.17,365.50 741.30,368.40 C743.43,371.30 745.62,373.32 748.50,375.00 C751.38,376.68 755.35,377.83 758.60,378.50 C761.85,379.17 764.93,378.90 768.00,379.00 C771.07,379.10 775.50,379.08 777.00,379.10" fill="none" stroke="#a9c3de" stroke-width="3.9" style="mix-blend-mode:multiply"/>
<polygon points="565.90,378.40 573.50,374.50 573.50,382.30" fill="#a9c3de"/>
<polygon points="782.80,379.10 775.80,382.90 775.80,375.30" fill="#a9c3de"/>
<circle cx="610.4" cy="313.5" r="8.1" fill="#3db1d8"/>
<text x="610.3" y="316.74" font-size="9.0" font-weight="bold" font-style="italic" fill="#fff" text-anchor="middle" opacity="1.0">R1</text>
<circle cx="646.2" cy="301.9" r="8.1" fill="#3db1d8"/>
<text x="646.1" y="305.14" font-size="9.0" font-weight="bold" font-style="italic" fill="#fff" text-anchor="middle" opacity="1.0">R2</text>
<circle cx="695.2" cy="301.4" r="8.1" fill="#3db1d8"/>
<text x="695.1" y="304.64" font-size="9.0" font-weight="bold" font-style="italic" fill="#fff" text-anchor="middle" opacity="1.0">R3</text>
<circle cx="738.7" cy="312.9" r="8.1" fill="#3db1d8"/>
<text x="738.6" y="316.14" font-size="9.0" font-weight="bold" font-style="italic" fill="#fff" text-anchor="middle" opacity="1.0">R6</text>
<path d="M674,131 L674,141" stroke="#00a2e8" stroke-width="5.0" fill="none"/>
<polygon points="674.00,154.00 666.70,140.00 681.30,140.00" fill="#00a2e8"/>
<path d="M673.9,182 L673.9,255" stroke="#00a2e8" stroke-width="4.7" fill="none"/>
<polygon points="673.90,267.60 666.70,254.20 681.10,254.20" fill="#00a2e8"/>
<path d="M760,363.6 L774,363.6" stroke="#00a2e8" stroke-width="5.0" fill="none"/>
<polygon points="786.60,363.80 772.20,370.70 772.20,356.90" fill="#00a2e8"/>
<polygon points="785.4,365.95589743589744 789.9528205128205,361.7 810.4405128205128,361.7 805.5907692307692,365.95589743589744" fill="url(#rkTop)"/>
<polygon points="805.5907692307692,365.95589743589744 810.4405128205128,361.7 810.4405128205128,420.0 805.5907692307692,420.5" fill="url(#rkSide)"/>
<rect x="785.4" y="365.95589743589744" width="20.19076923076923" height="54.54410256410256" fill="#383838"/>
<rect x="786.30" y="366.46" width="18.59" height="6.79" rx="0.5" fill="url(#unitA)"/>
<rect x="787.97" y="369.18" width="1.48" height="2.96" fill="#7ac62c"/>
<rect x="795.50" y="368.17" width="2.38" height="3.27" fill="#7ac62c"/>
<rect x="798.56" y="368.17" width="1.78" height="3.27" fill="#8895a5"/>
<rect x="800.84" y="368.17" width="1.78" height="3.27" fill="#8895a5"/>
<rect x="786.30" y="374.25" width="18.59" height="6.79" rx="0.5" fill="url(#unitA)"/>
<rect x="787.97" y="376.98" width="1.48" height="2.96" fill="#7ac62c"/>
<rect x="795.50" y="375.96" width="2.38" height="3.27" fill="#7ac62c"/>
<rect x="798.56" y="375.96" width="1.78" height="3.27" fill="#8895a5"/>
<rect x="800.84" y="375.96" width="1.78" height="3.27" fill="#8895a5"/>
<rect x="786.30" y="382.04" width="18.59" height="6.79" rx="0.5" fill="url(#unitA)"/>
<rect x="787.97" y="384.77" width="1.48" height="2.96" fill="#7ac62c"/>
<rect x="795.50" y="383.75" width="2.38" height="3.27" fill="#7ac62c"/>
<rect x="798.56" y="383.75" width="1.78" height="3.27" fill="#8895a5"/>
<rect x="800.84" y="383.75" width="1.78" height="3.27" fill="#8895a5"/>
<rect x="786.30" y="389.83" width="18.59" height="6.79" rx="0.5" fill="url(#unitA)"/>
<rect x="787.97" y="392.56" width="1.48" height="2.96" fill="#7ac62c"/>
<rect x="795.50" y="391.55" width="2.38" height="3.27" fill="#7ac62c"/>
<rect x="798.56" y="391.55" width="1.78" height="3.27" fill="#8895a5"/>
<rect x="800.84" y="391.55" width="1.78" height="3.27" fill="#8895a5"/>
<rect x="786.30" y="397.62" width="18.59" height="6.79" rx="0.5" fill="url(#unitB)"/>
<rect x="787.97" y="400.35" width="1.48" height="2.96" fill="#7ac62c"/>
<rect x="795.50" y="399.34" width="2.38" height="3.27" fill="#7ac62c"/>
<rect x="798.56" y="399.34" width="1.78" height="3.27" fill="#8895a5"/>
<rect x="800.84" y="399.34" width="1.78" height="3.27" fill="#8895a5"/>
<rect x="786.30" y="405.42" width="18.59" height="6.79" rx="0.5" fill="url(#unitB)"/>
<rect x="787.97" y="408.14" width="1.48" height="2.96" fill="#7ac62c"/>
<rect x="795.50" y="407.13" width="2.38" height="3.27" fill="#7ac62c"/>
<rect x="798.56" y="407.13" width="1.78" height="3.27" fill="#8895a5"/>
<rect x="800.84" y="407.13" width="1.78" height="3.27" fill="#8895a5"/>
<rect x="786.30" y="413.21" width="18.59" height="6.79" rx="0.5" fill="url(#unitB)"/>
<rect x="787.97" y="415.94" width="1.48" height="2.96" fill="#7ac62c"/>
<rect x="795.50" y="414.92" width="2.38" height="3.27" fill="#7ac62c"/>
<rect x="798.56" y="414.92" width="1.78" height="3.27" fill="#8895a5"/>
<rect x="800.84" y="414.92" width="1.78" height="3.27" fill="#8895a5"/>
<polygon points="785.4,395.95515384615385 805.5907692307692,376.86471794871795 805.5907692307692,420.5 785.4,420.5" fill="#22303a" opacity="0.2"/>
<polygon points="810.4405128205128,365.95589743589744 814.9933333333333,361.7 835.4810256410257,361.7 830.631282051282,365.95589743589744" fill="url(#rkTop)"/>
<polygon points="830.631282051282,365.95589743589744 835.4810256410257,361.7 835.4810256410257,420.0 830.631282051282,420.5" fill="url(#rkSide)"/>
<rect x="810.4405128205128" y="365.95589743589744" width="20.19076923076923" height="54.54410256410256" fill="#383838"/>
<rect x="811.34" y="366.46" width="18.59" height="6.79" rx="0.5" fill="url(#unitA)"/>
<rect x="813.01" y="369.18" width="1.48" height="2.96" fill="#7ac62c"/>
<rect x="820.54" y="368.17" width="2.38" height="3.27" fill="#7ac62c"/>
<rect x="823.60" y="368.17" width="1.78" height="3.27" fill="#8895a5"/>
<rect x="825.88" y="368.17" width="1.78" height="3.27" fill="#8895a5"/>
<rect x="811.34" y="374.25" width="18.59" height="6.79" rx="0.5" fill="url(#unitA)"/>
<rect x="813.01" y="376.98" width="1.48" height="2.96" fill="#7ac62c"/>
<rect x="820.54" y="375.96" width="2.38" height="3.27" fill="#7ac62c"/>
<rect x="823.60" y="375.96" width="1.78" height="3.27" fill="#8895a5"/>
<rect x="825.88" y="375.96" width="1.78" height="3.27" fill="#8895a5"/>
<rect x="811.34" y="382.04" width="18.59" height="6.79" rx="0.5" fill="url(#unitA)"/>
<rect x="813.01" y="384.77" width="1.48" height="2.96" fill="#7ac62c"/>
<rect x="820.54" y="383.75" width="2.38" height="3.27" fill="#7ac62c"/>
<rect x="823.60" y="383.75" width="1.78" height="3.27" fill="#8895a5"/>
<rect x="825.88" y="383.75" width="1.78" height="3.27" fill="#8895a5"/>
<rect x="811.34" y="389.83" width="18.59" height="6.79" rx="0.5" fill="url(#unitA)"/>
<rect x="813.01" y="392.56" width="1.48" height="2.96" fill="#7ac62c"/>
<rect x="820.54" y="391.55" width="2.38" height="3.27" fill="#7ac62c"/>
<rect x="823.60" y="391.55" width="1.78" height="3.27" fill="#8895a5"/>
<rect x="825.88" y="391.55" width="1.78" height="3.27" fill="#8895a5"/>
<rect x="811.34" y="397.62" width="18.59" height="6.79" rx="0.5" fill="url(#unitB)"/>
<rect x="813.01" y="400.35" width="1.48" height="2.96" fill="#7ac62c"/>
<rect x="820.54" y="399.34" width="2.38" height="3.27" fill="#7ac62c"/>
<rect x="823.60" y="399.34" width="1.78" height="3.27" fill="#8895a5"/>
<rect x="825.88" y="399.34" width="1.78" height="3.27" fill="#8895a5"/>
<rect x="811.34" y="405.42" width="18.59" height="6.79" rx="0.5" fill="url(#unitB)"/>
<rect x="813.01" y="408.14" width="1.48" height="2.96" fill="#7ac62c"/>
<rect x="820.54" y="407.13" width="2.38" height="3.27" fill="#7ac62c"/>
<rect x="823.60" y="407.13" width="1.78" height="3.27" fill="#8895a5"/>
<rect x="825.88" y="407.13" width="1.78" height="3.27" fill="#8895a5"/>
<rect x="811.34" y="413.21" width="18.59" height="6.79" rx="0.5" fill="url(#unitB)"/>
<rect x="813.01" y="415.94" width="1.48" height="2.96" fill="#7ac62c"/>
<rect x="820.54" y="414.92" width="2.38" height="3.27" fill="#7ac62c"/>
<rect x="823.60" y="414.92" width="1.78" height="3.27" fill="#8895a5"/>
<rect x="825.88" y="414.92" width="1.78" height="3.27" fill="#8895a5"/>
<polygon points="810.4405128205128,395.95515384615385 830.631282051282,376.86471794871795 830.631282051282,420.5 810.4405128205128,420.5" fill="#22303a" opacity="0.2"/>
<polygon points="835.4810256410257,365.95589743589744 840.0338461538462,361.7 862.5010256410256,361.7 855.6717948717949,365.95589743589744" fill="url(#rkTop)"/>
<polygon points="855.6717948717949,365.95589743589744 862.5010256410256,361.7 862.5010256410256,412.6441025641025 855.6717948717949,420.5" fill="url(#rkSide)"/>
<rect x="835.4810256410257" y="365.95589743589744" width="20.19076923076923" height="54.54410256410256" fill="#383838"/>
<rect x="836.38" y="366.46" width="18.59" height="6.79" rx="0.5" fill="url(#unitA)"/>
<rect x="838.05" y="369.18" width="1.48" height="2.96" fill="#7ac62c"/>
<rect x="845.58" y="368.17" width="2.38" height="3.27" fill="#7ac62c"/>
<rect x="848.64" y="368.17" width="1.78" height="3.27" fill="#8895a5"/>
<rect x="850.92" y="368.17" width="1.78" height="3.27" fill="#8895a5"/>
<rect x="836.38" y="374.25" width="18.59" height="6.79" rx="0.5" fill="url(#unitA)"/>
<rect x="838.05" y="376.98" width="1.48" height="2.96" fill="#7ac62c"/>
<rect x="845.58" y="375.96" width="2.38" height="3.27" fill="#7ac62c"/>
<rect x="848.64" y="375.96" width="1.78" height="3.27" fill="#8895a5"/>
<rect x="850.92" y="375.96" width="1.78" height="3.27" fill="#8895a5"/>
<rect x="836.38" y="382.04" width="18.59" height="6.79" rx="0.5" fill="url(#unitA)"/>
<rect x="838.05" y="384.77" width="1.48" height="2.96" fill="#7ac62c"/>
<rect x="845.58" y="383.75" width="2.38" height="3.27" fill="#7ac62c"/>
<rect x="848.64" y="383.75" width="1.78" height="3.27" fill="#8895a5"/>
<rect x="850.92" y="383.75" width="1.78" height="3.27" fill="#8895a5"/>
<rect x="836.38" y="389.83" width="18.59" height="6.79" rx="0.5" fill="url(#unitA)"/>
<rect x="838.05" y="392.56" width="1.48" height="2.96" fill="#7ac62c"/>
<rect x="845.58" y="391.55" width="2.38" height="3.27" fill="#7ac62c"/>
<rect x="848.64" y="391.55" width="1.78" height="3.27" fill="#8895a5"/>
<rect x="850.92" y="391.55" width="1.78" height="3.27" fill="#8895a5"/>
<rect x="836.38" y="397.62" width="18.59" height="6.79" rx="0.5" fill="url(#unitB)"/>
<rect x="838.05" y="400.35" width="1.48" height="2.96" fill="#7ac62c"/>
<rect x="845.58" y="399.34" width="2.38" height="3.27" fill="#7ac62c"/>
<rect x="848.64" y="399.34" width="1.78" height="3.27" fill="#8895a5"/>
<rect x="850.92" y="399.34" width="1.78" height="3.27" fill="#8895a5"/>
<rect x="836.38" y="405.42" width="18.59" height="6.79" rx="0.5" fill="url(#unitB)"/>
<rect x="838.05" y="408.14" width="1.48" height="2.96" fill="#7ac62c"/>
<rect x="845.58" y="407.13" width="2.38" height="3.27" fill="#7ac62c"/>
<rect x="848.64" y="407.13" width="1.78" height="3.27" fill="#8895a5"/>
<rect x="850.92" y="407.13" width="1.78" height="3.27" fill="#8895a5"/>
<rect x="836.38" y="413.21" width="18.59" height="6.79" rx="0.5" fill="url(#unitB)"/>
<rect x="838.05" y="415.94" width="1.48" height="2.96" fill="#7ac62c"/>
<rect x="845.58" y="414.92" width="2.38" height="3.27" fill="#7ac62c"/>
<rect x="848.64" y="414.92" width="1.78" height="3.27" fill="#8895a5"/>
<rect x="850.92" y="414.92" width="1.78" height="3.27" fill="#8895a5"/>
<polygon points="835.4810256410257,395.95515384615385 855.6717948717949,376.86471794871795 855.6717948717949,420.5 835.4810256410257,420.5" fill="#22303a" opacity="0.2"/>
<polygon points="635.2,116.8 654.8000000000001,103.5 714.4000000000001,103.5 695.8000000000001,116.8" fill="url(#srvTop)"/>
<polygon points="695.8000000000001,116.8 714.4000000000001,103.5 714.4000000000001,119.3 695.8000000000001,131.4" fill="url(#srvSide)"/>
<rect x="635.2" y="116.8" width="60.6" height="14.6" fill="url(#srvFront)"/>
<rect x="635.2" y="116.8" width="60.6" height="0.9" fill="#6a6a6a" opacity="0.8"/>
<rect x="638.8000000000001" y="120.0" width="4.6" height="3.6" rx="0.6" fill="#6f7f8f"/>
<rect x="638.8000000000001" y="125.39999999999999" width="4.6" height="4.2" rx="0.6" fill="#74c22a"/>
<rect x="671.0" y="119.57" width="4.9" height="9.49" rx="1" fill="#f4f4f4"/>
<rect x="678.0" y="119.57" width="4.9" height="9.49" rx="1" fill="#f4f4f4"/>
<rect x="685.0" y="119.57" width="4.9" height="9.49" rx="1" fill="#f4f4f4"/>
<polygon points="635.2,95.8 654.8000000000001,82.5 714.4000000000001,82.5 695.8000000000001,95.8" fill="url(#srvTop)"/>
<polygon points="695.8000000000001,95.8 714.4000000000001,82.5 714.4000000000001,98.3 695.8000000000001,110.39999999999999" fill="url(#srvSide)"/>
<rect x="635.2" y="95.8" width="60.6" height="14.6" fill="url(#srvFront)"/>
<rect x="635.2" y="95.8" width="60.6" height="0.9" fill="#6a6a6a" opacity="0.8"/>
<rect x="638.8000000000001" y="99.0" width="4.6" height="3.6" rx="0.6" fill="#6f7f8f"/>
<rect x="638.8000000000001" y="104.39999999999999" width="4.6" height="4.2" rx="0.6" fill="#74c22a"/>
<rect x="671.0" y="98.57" width="4.9" height="9.49" rx="1" fill="#f4f4f4"/>
<rect x="678.0" y="98.57" width="4.9" height="9.49" rx="1" fill="#f4f4f4"/>
<rect x="685.0" y="98.57" width="4.9" height="9.49" rx="1" fill="#f4f4f4"/>
<polygon points="635.2,167.9 654.8000000000001,155.1 714.4000000000001,155.1 695.8000000000001,167.9" fill="url(#srvTop)"/>
<polygon points="695.8000000000001,167.9 714.4000000000001,155.1 714.4000000000001,171.29999999999998 695.8000000000001,182.9" fill="url(#srvSide)"/>
<rect x="635.2" y="167.9" width="60.6" height="15" fill="url(#srvFront)"/>
<rect x="635.2" y="167.9" width="60.6" height="0.9" fill="#6a6a6a" opacity="0.8"/>
<rect x="638.8000000000001" y="171.1" width="4.6" height="3.6" rx="0.6" fill="#6f7f8f"/>
<rect x="638.8000000000001" y="176.5" width="4.6" height="4.2" rx="0.6" fill="#74c22a"/>
<rect x="671.0" y="170.75" width="4.9" height="9.75" rx="1" fill="#f4f4f4"/>
<rect x="678.0" y="170.75" width="4.9" height="9.75" rx="1" fill="#9aa0a8"/>
<rect x="685.0" y="170.75" width="4.9" height="9.75" rx="1" fill="#9aa0a8"/>
<text x="562.6" y="99.6" font-size="17" font-weight="bold" fill="none" stroke="#fff" stroke-opacity="0.35" stroke-width="2.6" stroke-linejoin="round" text-anchor="start" textLength="70.4" lengthAdjust="spacingAndGlyphs">5G Core</text>
<text x="562.6" y="99.6" font-size="17" font-weight="bold" fill="#000" text-anchor="start" textLength="70.4" lengthAdjust="spacingAndGlyphs" stroke="#000" stroke-width="0.37" stroke-linejoin="round">5G Core</text>
<text x="579.2" y="172.9" font-size="14" font-weight="bold" fill="#12a0e8" text-anchor="start" textLength="31.6" lengthAdjust="spacingAndGlyphs" stroke="#fff" stroke-opacity="0.55" stroke-width="1.6" paint-order="stroke" stroke-linejoin="round">MUP</text>
<text x="559.4" y="189.9" font-size="14.2" font-weight="bold" fill="#12a0e8" text-anchor="start" textLength="71.6" lengthAdjust="spacingAndGlyphs" stroke="#fff" stroke-opacity="0.55" stroke-width="1.6" paint-order="stroke" stroke-linejoin="round">Controller</text>
</svg></body></html>
